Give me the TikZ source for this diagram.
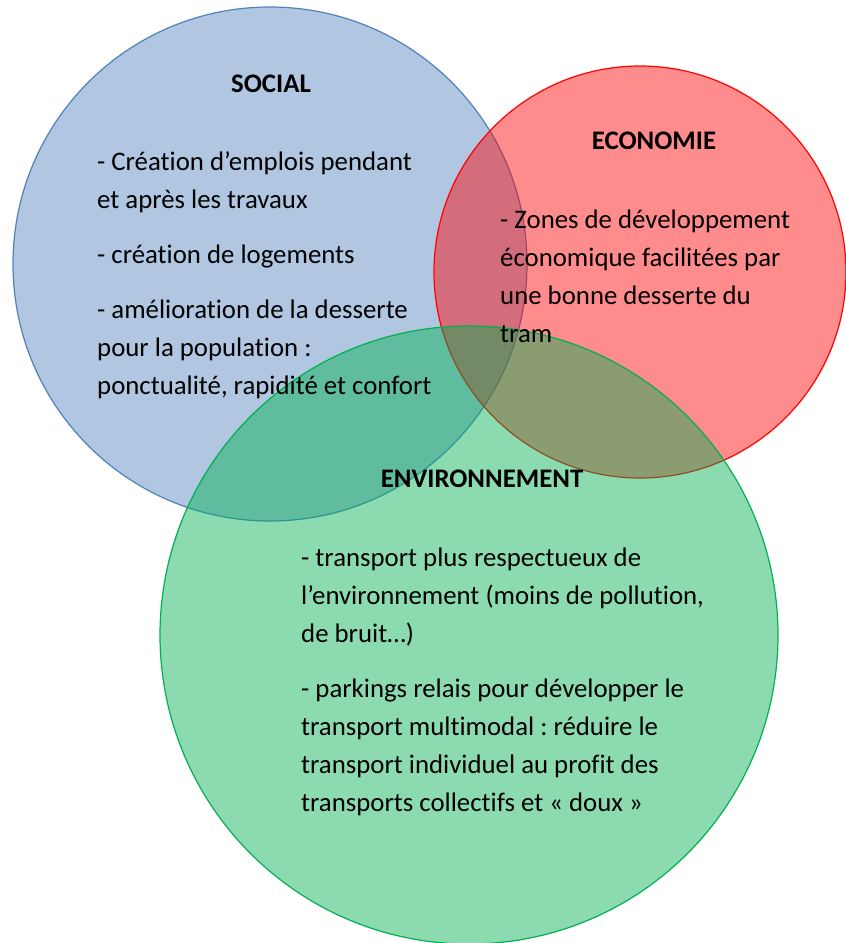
\documentclass[tikz,border=0pt]{standalone}
\usepackage{fontspec}
\setmainfont[Ligatures=NoCommon]{Carlito}
\frenchspacing
\usepackage{tikz}

\definecolor{socblue}{RGB}{79,129,189}
\definecolor{ecored}{RGB}{255,0,0}
\definecolor{envgreen}{RGB}{0,176,80}

\tikzset{
  cercle/.style={draw=#1, line width=1.2pt, fill=#1, fill opacity=0.45},
  titre/.style={font=\fontsize{26.8}{38}\selectfont\bfseries, anchor=base},
  liste/.style={font=\fontsize{26.8}{38}\selectfont, anchor=base west, align=left, inner sep=0pt}
}

\begin{document}
\begin{tikzpicture}[x=1pt, y=-1pt]
  \useasboundingbox (0,0) rectangle (846,943);

  % Cercle social
  \draw[cercle=socblue] (270,264) circle[radius=257pt];
  % Cercle economie
  \draw[cercle=ecored] (640,272) circle[radius=206pt];
  % Cercle environnement
  \draw[cercle=envgreen] (469,635) circle[radius=309pt];

  % Social (base = derniere ligne)
  \node[titre] (social) at (271,92) {SOCIAL};
  \node[liste] (soc1) at (97,208) {- Création d’emplois pendant\\et après les travaux};
  \node[liste] (soc2) at (97,263) {- création de logements};
  \node[liste] (soc3) at (97,394) {- amélioration de la desserte\\pour la population :\\ponctualité, rapidité et confort};

  % Economie
  \node[titre] (eco) at (654,149) {ECONOMIE};
  \node[liste] (eco1) at (500,342) {- Zones de développement\\économique facilitées par\\une bonne desserte du\\tram};

  % Environnement
  \node[titre] (env) at (482,487) {ENVIRONNEMENT};
  \node[liste] (env1) at (301,642) {- transport plus respectueux de\\l’environnement (moins de pollution,\\de bruit…)};
  \node[liste] (env2) at (301,811) {- parkings relais pour développer le\\transport multimodal : réduire le\\transport individuel au profit des\\transports collectifs et « doux »};
\end{tikzpicture}
\end{document}
